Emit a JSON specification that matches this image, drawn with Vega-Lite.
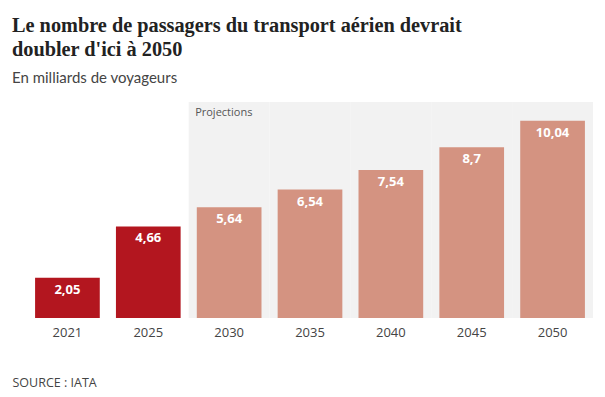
{
  "$schema": "https://vega.github.io/schema/vega-lite/v6.json",
  "autosize": {"type": "none"},
  "width": 566,
  "height": 216,
  "padding": {"left": 27, "top": 102, "right": 12, "bottom": 79},
  "background": "white",
  "title": {
    "text": ["Le nombre de passagers du transport aérien devrait", "doubler d'ici à 2050"],
    "subtitle": "En milliards de voyageurs",
    "anchor": "start",
    "dx": 0,
    "offset": 16,
    "font": "Liberation Serif",
    "fontSize": 20.3,
    "fontWeight": "bold",
    "color": "#222222",
    "lineHeight": 24,
    "subtitleFont": "Lato",
    "subtitleFontSize": 15,
    "subtitleColor": "#444444",
    "subtitlePadding": 11
  },
  "config": {
    "view": {"stroke": null},
    "locale": {"number": {"decimal": ",", "thousands": " ", "grouping": [3], "currency": ["", " €"]}}
  },
  "datasets": {
    "passagers": [
      {"annee": "2021", "valeur": 2.05, "type": "Réel"},
      {"annee": "2025", "valeur": 4.66, "type": "Réel"},
      {"annee": "2030", "valeur": 5.64, "type": "Projection"},
      {"annee": "2035", "valeur": 6.54, "type": "Projection"},
      {"annee": "2040", "valeur": 7.54, "type": "Projection"},
      {"annee": "2045", "valeur": 8.7, "type": "Projection"},
      {"annee": "2050", "valeur": 10.04, "type": "Projection"}
    ],
    "zone": [
      {"annee": "2030"}, {"annee": "2035"}, {"annee": "2040"}, {"annee": "2045"}, {"annee": "2050"}
    ],
    "etiquette": [{"annee": "2030", "texte": "Projections"}]
  },
  "encoding": {
    "x": {
      "field": "annee",
      "type": "nominal",
      "sort": ["2021", "2025", "2030", "2035", "2040", "2045", "2050"],
      "scale": {"domain": ["2021", "2025", "2030", "2035", "2040", "2045", "2050"], "paddingInner": 0.2, "paddingOuter": 0.1},
      "axis": {
        "labelAngle": 0,
        "labelFont": "Open Sans",
        "labelFontSize": 13,
        "labelColor": "#444444",
        "labelPadding": 8,
        "domain": false,
        "ticks": false,
        "title": "SOURCE : IATA",
        "titleFont": "Open Sans",
        "titleFontSize": 12.5,
        "titleFontWeight": "normal",
        "titleColor": "#444444",
        "titleAnchor": "start",
        "titleAlign": "left",
        "titleX": -15,
        "titleY": 58
      }
    }
  },
  "layer": [
    {
      "data": {"name": "zone"},
      "mark": {"type": "bar", "color": "#f2f2f2", "width": {"band": 1.25}},
      "encoding": {
        "y": {"datum": 11, "type": "quantitative", "scale": {"domain": [0, 11], "nice": false}, "axis": null}
      }
    },
    {
      "data": {"name": "etiquette"},
      "mark": {"type": "text", "align": "left", "baseline": "top", "dx": -34, "dy": 5, "font": "Open Sans", "fontSize": 11, "color": "#555555"},
      "encoding": {
        "y": {"datum": 11, "type": "quantitative"},
        "text": {"field": "texte"}
      }
    },
    {
      "data": {"name": "passagers"},
      "mark": {"type": "bar"},
      "encoding": {
        "y": {"field": "valeur", "type": "quantitative"},
        "color": {
          "field": "type",
          "type": "nominal",
          "scale": {"domain": ["Réel", "Projection"], "range": ["#b3161f", "#d49381"]},
          "legend": null
        }
      }
    },
    {
      "data": {"name": "passagers"},
      "mark": {"type": "text", "baseline": "top", "dy": 6, "font": "Open Sans", "fontSize": 13, "fontWeight": "bold", "color": "white"},
      "encoding": {
        "y": {"field": "valeur", "type": "quantitative"},
        "text": {"field": "valeur", "type": "quantitative", "format": "~g"}
      }
    }
  ]
}
